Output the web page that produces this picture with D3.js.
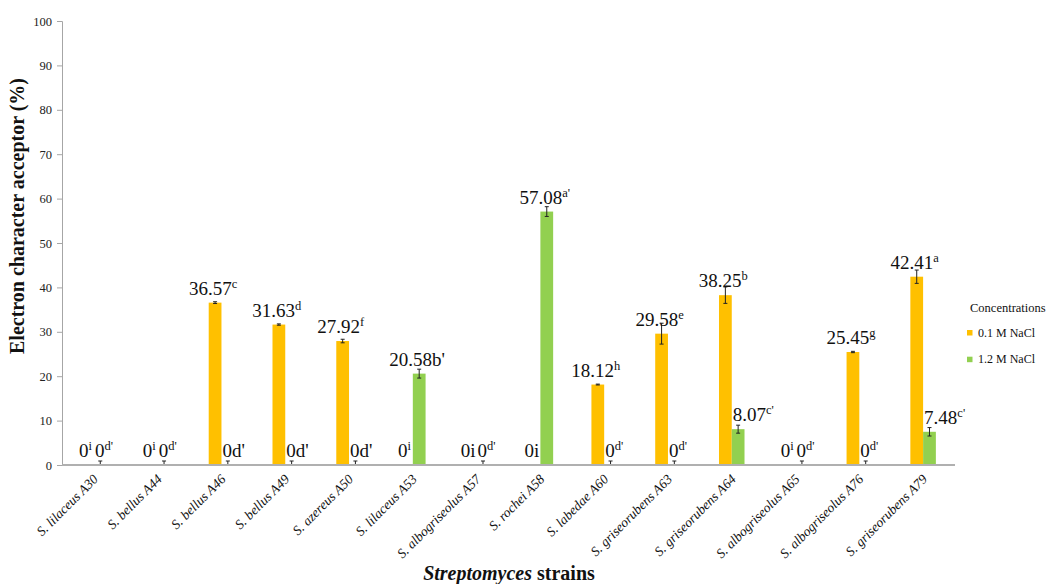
<!DOCTYPE html>
<html>
<head>
<meta charset="utf-8">
<script src="https://cdn.jsdelivr.net/npm/d3@7"></script>
<style>
  html, body { margin: 0; padding: 0; background: #fff; }
  svg { display: block; }
  svg text { font-family: "Liberation Serif", "Times New Roman", serif; }
</style>
</head>
<body>
<svg id="chart" width="1049" height="584"></svg>
<script>
// Strains tested
const strains = [
  "S. lilaceus A30", "S. bellus A44", "S. bellus A46", "S. bellus A49",
  "S. azereus A50", "S. lilaceus A53", "S. albogriseolus A57", "S. rochei A58",
  "S. labedae A60", "S. griseorubens A63", "S. griseorubens A64",
  "S. albogriseolus A65", "S. albogriseolus A76", "S. griseorubens A79"
];

const seriesNames = ["0.1 M NaCl", "1.2 M NaCl"];

// Electron character acceptor (%) at 0.1 M NaCl
const lowSalt = [0, 0, 36.57, 31.63, 27.92, 0, 0, 0, 18.12, 29.58, 38.25, 0, 25.45, 42.41];
const lowSaltErr = [0, 0, 0.2, 0.15, 0.4, 0, 0, 0, 0.1, 2.35, 1.85, 0, 0.15, 1.5];
const lowSaltLetters = ["i", "i", "c", "d", "f", "i", "i", "i", "h", "e", "b", "i", "g", "a"];
const lowSaltSup = [true, true, true, true, true, true, false, false, true, true, true, true, true, true];

// Electron character acceptor (%) at 1.2 M NaCl
const highSalt = [0, 0, 0, 0, 0, 20.58, 0, 57.08, 0, 0, 8.07, 0, 0, 7.48];
const highSaltErr = [0.9, 0.9, 0.9, 0.9, 0.9, 1.0, 0.9, 1.1, 0.9, 0.9, 0.9, 0.9, 0.9, 0.95];
const highSaltLetters = ["d'", "d'", "d'", "d'", "d'", "b'", "d'", "a'", "d'", "d'", "c'", "d'", "d'", "c'"];
const highSaltSup = [true, true, false, false, false, false, true, true, true, true, true, true, true, true];

const yTicks = [0, 10, 20, 30, 40, 50, 60, 70, 80, 90, 100];

const colors = ["#FFC000", "#92D050"];
const SERIF = "Liberation Serif, Times New Roman, serif";

const svg = d3.select("#chart");
const plot = { left: 62, right: 955, top: 21, bottom: 465 };

const x = d3.scaleBand().domain(strains).range([plot.left, plot.right]).padding(0);
const xs = d3.scaleBand().domain(seriesNames)
  .range([x.bandwidth() * 0.3, x.bandwidth() * 0.7]).padding(0);
const y = d3.scaleLinear().domain([0, 100]).range([plot.bottom, plot.top]);

// Y axis
const yAxis = svg.append("g")
  .attr("transform", `translate(${plot.left},0)`)
  .call(d3.axisLeft(y).tickValues(yTicks).tickSize(5).tickPadding(5));
yAxis.attr("font-family", SERIF);
yAxis.select(".domain").attr("stroke", "#a6a6a6").attr("stroke-width", 1);
yAxis.selectAll(".tick line").attr("stroke", "#a6a6a6");
yAxis.selectAll(".tick text")
  .attr("font-family", SERIF)
  .attr("font-size", 12.5)
  .attr("fill", "#222");

// Build per-bar records
const rows = strains.map((s, i) => ({
  strain: s,
  bars: [
    { series: seriesNames[0], value: lowSalt[i], err: lowSaltErr[i], letter: lowSaltLetters[i], sup: lowSaltSup[i], k: 0 },
    { series: seriesNames[1], value: highSalt[i], err: highSaltErr[i], letter: highSaltLetters[i], sup: highSaltSup[i], k: 1 }
  ]
}));

const groups = svg.append("g").selectAll("g")
  .data(rows).join("g")
  .attr("transform", d => `translate(${x(d.strain)},0)`);

// Bars
groups.selectAll("rect")
  .data(d => d.bars.filter(b => b.value > 0))
  .join("rect")
  .attr("x", b => xs(b.series))
  .attr("width", xs.bandwidth())
  .attr("y", b => y(b.value))
  .attr("height", b => y(0) - y(b.value))
  .attr("fill", b => colors[b.k]);

// Error bars
const capW = 2;
const errG = groups.selectAll("g.err")
  .data(d => d.bars.filter(b => b.err > 0))
  .join("g").attr("class", "err")
  .attr("stroke", "#222").attr("stroke-width", 1);
errG.append("line")
  .attr("x1", b => xs(b.series) + xs.bandwidth() / 2)
  .attr("x2", b => xs(b.series) + xs.bandwidth() / 2)
  .attr("y1", b => y(Math.max(0, b.value - b.err)))
  .attr("y2", b => y(b.value + b.err));
errG.append("line")
  .attr("x1", b => xs(b.series) + xs.bandwidth() / 2 - capW)
  .attr("x2", b => xs(b.series) + xs.bandwidth() / 2 + capW)
  .attr("y1", b => y(b.value + b.err))
  .attr("y2", b => y(b.value + b.err));
errG.filter(b => b.value - b.err > 0).append("line")
  .attr("x1", b => xs(b.series) + xs.bandwidth() / 2 - capW)
  .attr("x2", b => xs(b.series) + xs.bandwidth() / 2 + capW)
  .attr("y1", b => y(b.value - b.err))
  .attr("y2", b => y(b.value - b.err));

// X axis line
svg.append("line")
  .attr("x1", plot.left).attr("x2", plot.right)
  .attr("y1", y(0)).attr("y2", y(0))
  .attr("stroke", "#b0b0b0").attr("stroke-width", 2);

// Value labels with significance letters
groups.each(function (d) {
  const g = d3.select(this);
  d.bars.forEach(b => {
    const cx = xs(b.series) + xs.bandwidth() / 2;
    let anchor = "middle", tx = cx - 2;
    if (b.k === 1 && !(d.bars[0].value === 0 && b.value > 0)) {
      anchor = "start";
      tx = xs(b.series) + 1;
    }
    const t = g.append("text")
      .attr("x", tx)
      .attr("y", y(b.value) - 8)
      .attr("text-anchor", anchor)
      .attr("font-family", SERIF)
      .attr("font-size", 19)
      .attr("fill", "#111");
    t.append("tspan").text(b.value === 0 ? "0" : b.value.toFixed(2));
    if (b.sup) {
      t.append("tspan").attr("font-size", 12.5).attr("dy", -7).text(b.letter);
    } else {
      t.append("tspan").text(b.letter);
    }
  });
});

// X tick labels
svg.append("g").selectAll("text")
  .data(strains).join("text")
  .attr("transform", s => `translate(${x(s) + x.bandwidth() / 2 + 5},${plot.bottom + 15}) rotate(-45)`)
  .attr("text-anchor", "end")
  .attr("font-family", SERIF)
  .attr("font-size", 13.5)
  .attr("font-style", "italic")
  .attr("fill", "#111")
  .text(s => s);

// Axis titles
svg.append("text")
  .attr("transform", `translate(24,216) rotate(-90)`)
  .attr("text-anchor", "middle")
  .attr("font-family", SERIF)
  .attr("font-size", 20)
  .attr("font-weight", "bold")
  .attr("fill", "#111")
  .text("Electron character acceptor (%)");

const xt = svg.append("text")
  .attr("x", 509).attr("y", 580)
  .attr("text-anchor", "middle")
  .attr("font-family", SERIF)
  .attr("font-size", 20)
  .attr("font-weight", "bold")
  .attr("fill", "#111");
xt.append("tspan").attr("font-style", "italic").text("Streptomyces");
xt.append("tspan").text(" strains");

// Legend
const legend = svg.append("g").attr("transform", "translate(967,0)");
legend.append("text")
  .attr("x", 3).attr("y", 312)
  .attr("font-family", SERIF)
  .attr("font-size", 12.5).attr("fill", "#111")
  .text("Concentrations");
const li = legend.selectAll("g.item")
  .data(seriesNames).join("g").attr("class", "item")
  .attr("transform", (s, i) => `translate(0,${330 + i * 26.7})`);
li.append("rect").attr("width", 5.5).attr("height", 5.5)
  .attr("fill", (s, i) => colors[i]);
li.append("text").attr("x", 11).attr("y", 6.5)
  .attr("font-family", SERIF)
  .attr("font-size", 12).attr("fill", "#111")
  .text(s => s);
</script>
</body>
</html>
